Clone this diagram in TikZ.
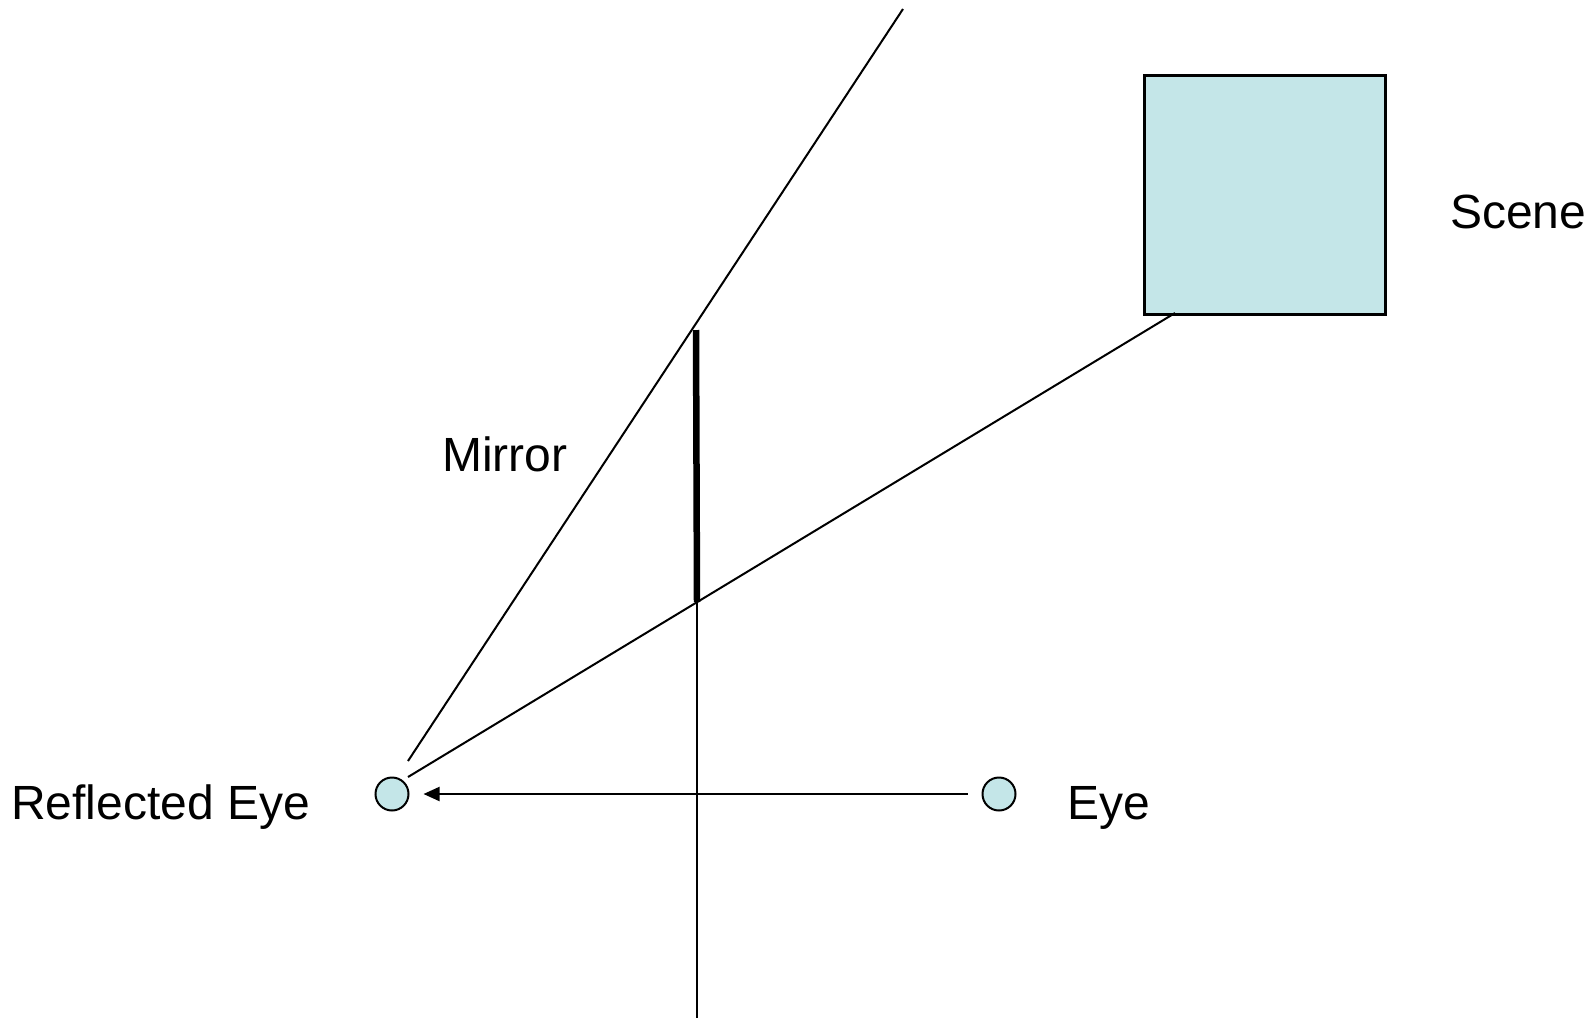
\documentclass[tikz,border=0pt]{standalone}
\usepackage{fontspec}
\setmainfont{Liberation Sans}
\usetikzlibrary{arrows.meta}
\definecolor{paleCyan}{RGB}{196,230,232}
\begin{document}
\begin{tikzpicture}[x=1pt,y=-1pt,
  thinline/.style={line width=2pt, black},
  eyedot/.style={circle, draw=black, line width=2pt, fill=paleCyan, minimum size=33pt, inner sep=0pt},
  lbl/.style={font=\fontsize{48}{56}\selectfont, inner sep=0pt, anchor=base west}]
\useasboundingbox (0,0) rectangle (1596,1018);
% scene box
\node[draw=black, line width=2.5pt, fill=paleCyan, minimum width=241pt, minimum height=239pt, inner sep=0pt, anchor=north west] (scene) at (1143,74) {};
% eyes
\node[eyedot] (refl) at (392,794) {};
\node[eyedot] (eye) at (999,794) {};
% coordinates
\coordinate (topEnd) at (903,9);
\coordinate (diagLow) at (408,761);
\coordinate (sceneLow) at (1175,313);
\coordinate (sceneEnd) at (408,777);
\coordinate (mirTop) at (696,330);
\coordinate (mirBot) at (697,602);
\coordinate (vBot) at (697,1018);
% lines
\draw[thinline] (topEnd) -- (diagLow);
\draw[thinline] (sceneLow) -- (sceneEnd);
\draw[line width=6.5pt] (mirTop) -- (mirBot);
\draw[thinline] (mirBot) -- (vBot);
\draw[thinline, -{Triangle[length=16pt,width=14pt]}] (eye.west) ++(-14pt,0) coordinate (arrStart) -- ([xshift=14pt]refl.east);
% labels
\node[lbl] (tScene) at (1450,228) {Scene};
\node[lbl] (tMirror) at (442,471) {Mirror};
\node[lbl] (tRefl) at (11,819) {Reflected Eye};
\node[lbl] (tEye) at (1067,819) {Eye};
\end{tikzpicture}
\end{document}
